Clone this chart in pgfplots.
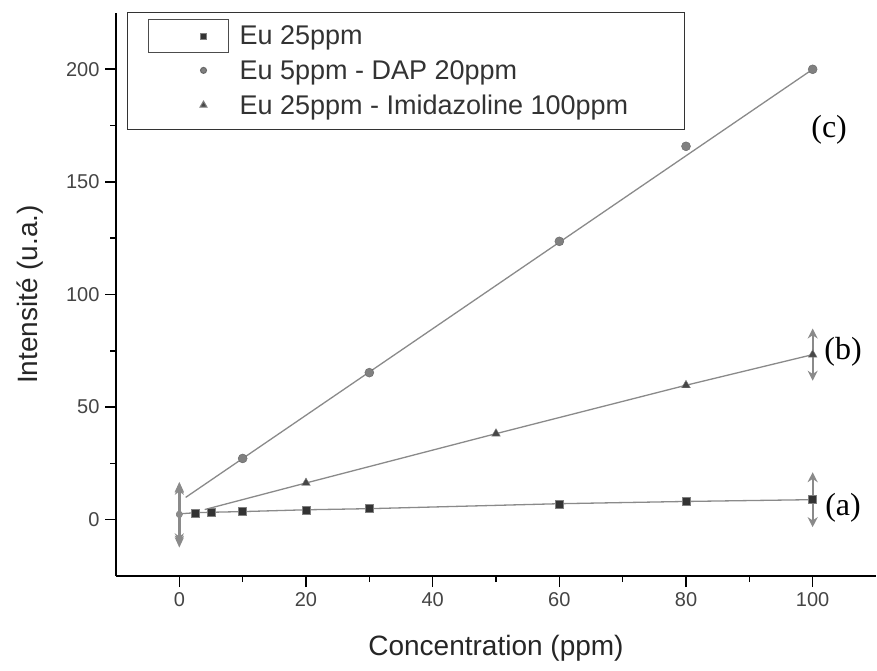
\documentclass[border=0pt]{standalone}
\usepackage{fontspec}
\setmainfont{Liberation Sans}
\newfontfamily\timesfont{Liberation Serif}
\usepackage{pgfplots}
\pgfplotsset{compat=1.18}
\usetikzlibrary{arrows.meta}
\definecolor{tickgray}{HTML}{444444}
\definecolor{linegray}{HTML}{8A8A8A}
\definecolor{markdark}{HTML}{333333}
\definecolor{markgray}{HTML}{808080}
\pgfplotsset{
  myerr/.style={error bars/.cd, y dir=both, y explicit,
    error mark=none,
    error bar style={linegray, line width=1.8pt, -{Stealth[length=10pt,width=10pt]}}},
  myerrzero/.style={error bars/.cd, y dir=both, y explicit,
    error mark=none,
    error bar style={linegray, line width=3.5pt, -{Stealth[length=10pt,width=9pt]}}},
  legA/.style={legend image code/.code={
    \draw[overlay, draw=black!70, line width=0.8pt, fill=none] (-55pt,-16pt) rectangle (25pt,17pt);
    \path[draw=none, fill=none] (-22pt,-6pt) rectangle (8pt,6pt);
    \draw[##1, mark size=3pt] plot coordinates {(0pt,0pt)};}},
  legB/.style={legend image code/.code={
    \path[draw=none, fill=none] (-22pt,-6pt) rectangle (8pt,6pt);
    \draw[##1, mark size=3pt] plot coordinates {(0pt,0pt)};}},
  legC/.style={legend image code/.code={
    \path[draw=none, fill=none] (-22pt,-6pt) rectangle (8pt,6pt);
    \draw[##1, mark size=4pt] plot coordinates {(0pt,0pt)};}},
}
\begin{document}
\begin{tikzpicture}
\useasboundingbox (-116pt,-95pt) rectangle (761pt,576pt);
\begin{axis}[
  scale only axis,
  width=760pt, height=563pt,
  xmin=-10, xmax=110, ymin=-25, ymax=225,
  axis lines=left,
  axis line style={-, line width=1.6pt, black},
  tick align=outside,
  xtick={0,20,40,60,80,100},
  ytick={0,50,100,150,200},
  minor x tick num=1, minor y tick num=1,
  major tick length=11pt, minor tick length=6pt,
  every tick/.style={black, line width=1.6pt},
  tick label style={font=\fontsize{20}{24}\selectfont, text=tickgray},
  /pgf/number format/assume math mode=true,
  xticklabel style={yshift=-2pt},
  yticklabel style={xshift=-2pt},
  xlabel={Concentration (ppm)},
  ylabel={Intensité (u.a.)},
  label style={font=\fontsize{28}{32}\selectfont, text=black!85},
  xlabel style={at={(axis description cs:0.5,-0.128)}, anchor=center},
  ylabel style={at={(axis description cs:-0.113,0.5)}, anchor=center},
  clip=false,
  legend cell align=left,
  legend style={
    at={(rel axis cs:0.0145,1.002)}, anchor=north west,
    draw=black!80, line width=1pt,
    font=\fontsize{27}{32}\selectfont,
    text=black!80,
    inner xsep=54pt, inner ysep=11.5pt,
    column sep=26pt, row sep=10pt,
  },
]
% fitted / connecting lines
\addplot[linegray, line width=1.3pt, forget plot] coordinates {
  (0,2.6) (2.5,3.1) (5,3.3) (10,3.6) (20,4.4) (30,4.9) (60,7.1) (80,8.1) (100,8.9)};
\addplot[linegray, line width=1.3pt, forget plot] coordinates {
  (4,4.5) (20,16.3) (50,38.2) (80,59.7) (100,73.3)};
\addplot[linegray, line width=1.3pt, forget plot] coordinates {
  (1,9.9) (100,200)};
% error bars at 0
\addplot[only marks, mark=*, mark size=3pt, color=linegray, forget plot, myerrzero] coordinates {
  (0,2.5) +- (0,13)
  (0,2.2) +- (0,14.6)
  (0,2.4) +- (0,14)};
% error bars at 100
\addplot[only marks, mark=none, forget plot, myerr] coordinates {
  (100,8.9) +- (0,12.2)
  (100,73.3) +- (0,11.6)};
% data marks
\addplot[only marks, mark=square*, mark size=4pt, color=markdark,
  mark options={fill=markdark, draw=markgray}, legA]
  coordinates {(2.5,3.1) (5,3.3) (10,3.6) (20,4.4) (30,4.9) (60,7.1) (80,8.1) (100,8.9)};
\addlegendentry{Eu 25ppm}
\addplot[only marks, mark=*, mark size=4.5pt, color=markgray,
  mark options={fill=markgray, draw=markgray!80!black}, legB]
  coordinates {(10,27.2) (30,65.3) (60,123.6) (80,165.8) (100,200)};
\addlegendentry{Eu 5ppm - DAP 20ppm}
\addplot[only marks, mark=triangle*, mark size=5pt, color=markdark,
  mark options={fill=markdark!90, draw=markgray}, legC]
  coordinates {(20,16.3) (50,38.2) (80,59.7) (100,73.3)};
\addlegendentry{Eu 25ppm - Imidazoline 100ppm}
% curve labels
\node[font=\timesfont\fontsize{32}{36}\selectfont, black] at (axis cs:102.6,173.3) {(c)};
\node[font=\timesfont\fontsize{32}{36}\selectfont, black] at (axis cs:104.8,74.7) {(b)};
\node[font=\timesfont\fontsize{32}{36}\selectfont, black] at (axis cs:104.8,5.3) {(a)};
\end{axis}
\end{tikzpicture}
\end{document}
